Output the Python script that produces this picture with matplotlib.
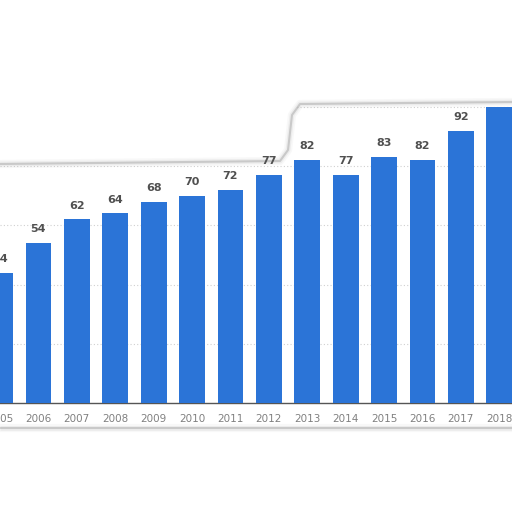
import matplotlib.pyplot as plt
from matplotlib.lines import Line2D
from matplotlib.patches import Polygon

years = [2005, 2006, 2007, 2008, 2009, 2010, 2011, 2012, 2013, 2014, 2015, 2016, 2017, 2018]
values = [44, 54, 62, 64, 68, 70, 72, 77, 82, 77, 83, 82, 92, 100]
labels = ['44', '54', '62', '64', '68', '70', '72', '77', '82', '77', '83', '82', '92', '']

fig = plt.figure(figsize=(5.12, 5.12), dpi=100)
ax = fig.add_axes([0, 109 / 512, 1, 403 / 512])

ax.bar(years, values, width=0.67, color='#2b74d7', zorder=3)
for x, v, s in zip(years, values, labels):
    ax.text(x, v + 3, s, ha='center', va='bottom', fontsize=8,
            fontweight='bold', color='#505050', zorder=4)

ax.set_xlim(2005.067, 2018.33)
ax.set_ylim(0, 136.1)
ax.set_yticks([20, 40, 60, 80, 100])
ax.set_axisbelow(True)
ax.yaxis.grid(True, color='#d0d0d0', linestyle=(0, (1, 2)), linewidth=0.8)
ax.tick_params(axis='y', left=False, labelleft=False)
ax.set_xticks(years)
ax.set_xticklabels([str(y) for y in years])
ax.tick_params(axis='x', length=0, pad=8, labelsize=7.5, labelcolor='#808080')
for side in ['top', 'right', 'left']:
    ax.spines[side].set_visible(False)
ax.spines['bottom'].set_color('#555555')
ax.spines['bottom'].set_linewidth(1.0)

# torn-screenshot edges (soft grey shadows)
def px(x, y):
    return x / 512, 1 - y / 512

top_x = [0, 280, 288, 292, 300, 512]
top_y = [164, 161, 150, 115, 104, 102]
bot_x = [0, 512]
bot_y = [428, 428]

# blank paper above the top tear: hides the grid but stays under bars and labels
cover = [px(a, b) for a, b in zip(top_x, top_y)] + [px(512, 0), px(0, 0)]
ax.add_patch(Polygon(cover, closed=True, facecolor='white', edgecolor='none',
                     transform=fig.transFigure, zorder=2, clip_on=False))

for xs, ys in [(top_x, top_y), (bot_x, bot_y)]:
    pts = [px(a, b) for a, b in zip(xs, ys)]
    for lw, al in [(6, 0.05), (3.5, 0.10), (1.5, 0.35)]:
        ax.add_line(Line2D([p[0] for p in pts], [p[1] for p in pts],
                           color='#888888', linewidth=lw, alpha=al, zorder=2.5,
                           transform=fig.transFigure, clip_on=False,
                           solid_capstyle='butt'))

fig.savefig('out.png', dpi=100)
